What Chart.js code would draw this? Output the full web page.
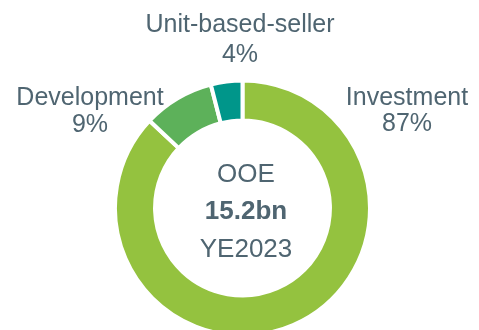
<!DOCTYPE html>
<html>
<head>
<meta charset="utf-8">
<script src="https://cdn.jsdelivr.net/npm/chart.js@4.4.1/dist/chart.umd.min.js"></script>
<style>
  html, body { margin: 0; padding: 0; background: #ffffff; overflow: hidden; }
  #wrap { position: relative; width: 479px; height: 330px; }
</style>
</head>
<body>
<div id="wrap"><canvas id="c" width="479" height="330"></canvas></div>
<script>
// Segment categories and their shares (%)
const categories = ['Investment', 'Development', 'Unit-based-seller'];
const shares = [87, 9, 4];
const segmentColors = ['#94C23F', '#5DB15A', '#00968A'];

// Text shown in the hole of the ring
const centerLines = ['OOE', '15.2bn', 'YE2023'];

const TEXT_COLOR = '#4F6571';
const FONT = '"Liberation Sans", Arial, Helvetica, sans-serif';

// Category name + share, placed around the ring
const labelPlacement = [
  { x: 407, y: 105, lineGap: 26 },   // Investment
  { x: 90,  y: 105, lineGap: 27 },   // Development
  { x: 240, y: 32,  lineGap: 30 }    // Unit-based-seller
];

const ringLabels = {
  id: 'ringLabels',
  afterDraw(chart) {
    const ctx = chart.ctx;
    const data = chart.data;
    ctx.save();
    ctx.fillStyle = TEXT_COLOR;
    ctx.textAlign = 'center';
    ctx.textBaseline = 'alphabetic';
    ctx.font = '25px ' + FONT;
    data.labels.forEach((name, i) => {
      const p = labelPlacement[i];
      ctx.fillText(name, p.x, p.y);
      ctx.fillText(data.datasets[0].data[i] + '%', p.x, p.y + p.lineGap);
    });

    // centre block
    const cx = 246;
    ctx.font = '26px ' + FONT;
    ctx.fillText(centerLines[0], cx, 182);
    ctx.font = 'bold 26px ' + FONT;
    ctx.fillText(centerLines[1], cx, 219);
    ctx.font = '26px ' + FONT;
    ctx.fillText(centerLines[2], cx, 257);
    ctx.restore();
  }
};

new Chart(document.getElementById('c'), {
  type: 'doughnut',
  data: {
    labels: categories,
    datasets: [{
      data: shares,
      backgroundColor: segmentColors,
      borderColor: '#ffffff',
      borderWidth: 4,
      clip: false
    }]
  },
  options: {
    responsive: false,
    animation: false,
    rotation: 0,
    radius: 127.5,
    cutout: '68.6%',
    layout: { padding: { top: 86, bottom: 0, left: 6, right: 0 } },
    plugins: {
      legend: { display: false },
      tooltip: { enabled: false }
    }
  },
  plugins: [ringLabels]
});
</script>
</body>
</html>
